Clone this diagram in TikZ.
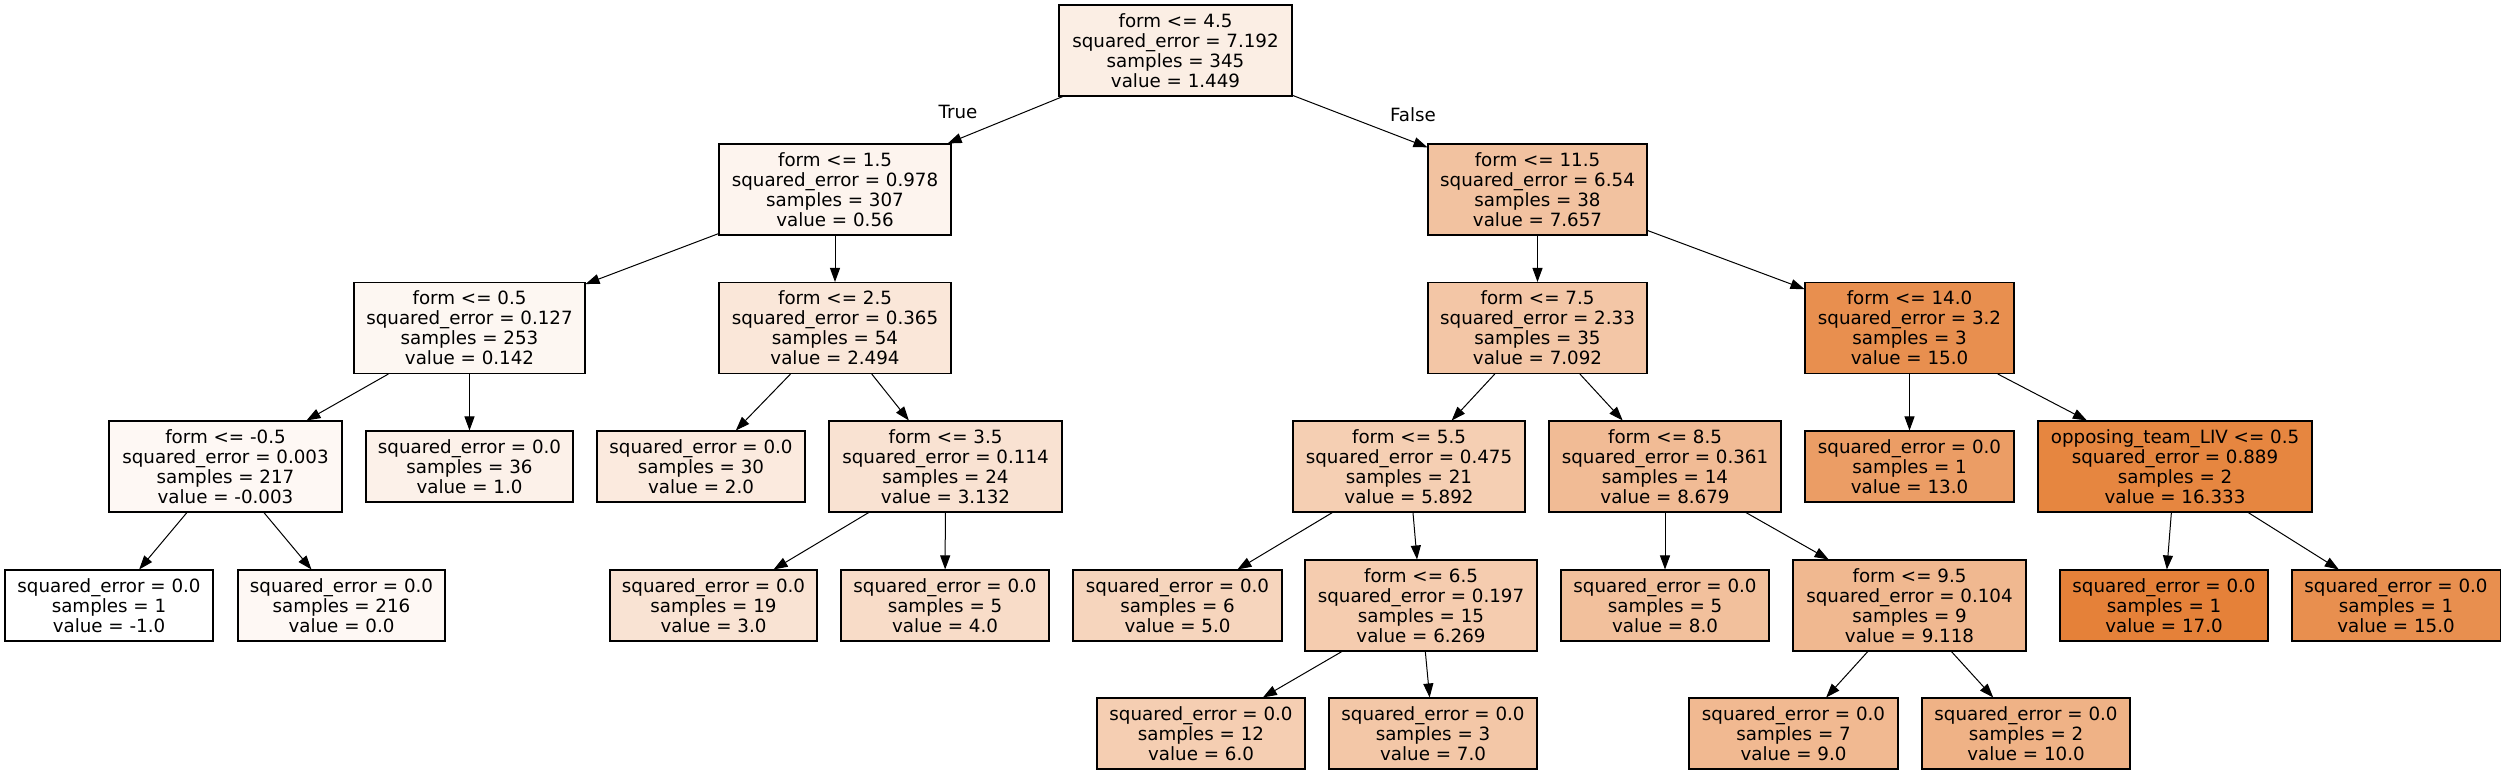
\documentclass[tikz,border=0pt]{standalone}
\usepackage{fontspec}
\setmainfont{DejaVu Sans}
\usetikzlibrary{arrows.meta}
\definecolor{c0}{RGB}{251,238,228}
\definecolor{c1}{RGB}{253,244,238}
\definecolor{c16}{RGB}{242,194,160}
\definecolor{c2}{RGB}{253,247,242}
\definecolor{c9}{RGB}{250,231,217}
\definecolor{c17}{RGB}{243,198,166}
\definecolor{c30}{RGB}{232,143,79}
\definecolor{c3}{RGB}{254,248,244}
\definecolor{c6}{RGB}{252,241,233}
\definecolor{c10}{RGB}{251,234,222}
\definecolor{c11}{RGB}{249,226,210}
\definecolor{c18}{RGB}{245,207,179}
\definecolor{c23}{RGB}{241,187,149}
\definecolor{c31}{RGB}{235,157,101}
\definecolor{c32}{RGB}{230,134,64}
\definecolor{c4}{RGB}{255,255,255}
\definecolor{c5}{RGB}{254,248,244}
\definecolor{c12}{RGB}{249,227,211}
\definecolor{c13}{RGB}{248,220,200}
\definecolor{c19}{RGB}{246,213,189}
\definecolor{c20}{RGB}{245,204,175}
\definecolor{c24}{RGB}{242,192,156}
\definecolor{c25}{RGB}{240,184,144}
\definecolor{c33}{RGB}{229,129,57}
\definecolor{c34}{RGB}{232,143,79}
\definecolor{c21}{RGB}{245,206,178}
\definecolor{c22}{RGB}{243,199,167}
\definecolor{c26}{RGB}{241,185,145}
\definecolor{c27}{RGB}{239,178,134}
\begin{document}
\begin{tikzpicture}[x=0.75pt,y=-0.75pt,
  tn/.style={draw=black, line width=0.8pt, rectangle, align=center, inner sep=0pt,
    font=\fontsize{13.7pt}{15pt}\selectfont},
  four/.style={tn, minimum height=68.25pt},
  three/.style={tn, minimum height=53.25pt},
  edge/.style={draw=black, line width=0.75pt, -{Triangle[length=10.5pt,width=7.5pt]}},
  lab/.style={font=\fontsize{13.7pt}{15pt}\selectfont, inner sep=0pt}]
\useasboundingbox (0,0) rectangle (2505,775);
% level 0
\node[four, fill=c0, minimum width=174.75pt] (n0) at (1175.5,50.5) {form <= 4.5\\squared\_error = 7.192\\samples = 345\\value = 1.449};
% level 1
\node[four, fill=c1, minimum width=174pt] (n1) at (835,189.5) {form <= 1.5\\squared\_error = 0.978\\samples = 307\\value = 0.56};
\node[four, fill=c16, minimum width=164.25pt] (n16) at (1537.5,189.5) {form <= 11.5\\squared\_error = 6.54\\samples = 38\\value = 7.657};
% level 2
\node[four, fill=c2, minimum width=173.25pt] (n2) at (469.5,328) {form <= 0.5\\squared\_error = 0.127\\samples = 253\\value = 0.142};
\node[four, fill=c9, minimum width=174pt] (n9) at (835,328) {form <= 2.5\\squared\_error = 0.365\\samples = 54\\value = 2.494};
\node[four, fill=c17, minimum width=164.25pt] (n17) at (1537.5,328) {form <= 7.5\\squared\_error = 2.33\\samples = 35\\value = 7.092};
\node[four, fill=c30, minimum width=156.75pt] (n30) at (1909.5,328) {form <= 14.0\\squared\_error = 3.2\\samples = 3\\value = 15.0};
% level 3
\node[four, fill=c3, minimum width=174.75pt] (n3) at (225.5,466.5) {form <= -0.5\\squared\_error = 0.003\\samples = 217\\value = -0.003};
\node[three, fill=c6, minimum width=155.25pt] (n6) at (469.5,466.5) {squared\_error = 0.0\\samples = 36\\value = 1.0};
\node[three, fill=c10, minimum width=156pt] (n10) at (701,466.5) {squared\_error = 0.0\\samples = 30\\value = 2.0};
\node[four, fill=c11, minimum width=174.75pt] (n11) at (945.5,466.5) {form <= 3.5\\squared\_error = 0.114\\samples = 24\\value = 3.132};
\node[four, fill=c18, minimum width=174pt] (n18) at (1409,466.5) {form <= 5.5\\squared\_error = 0.475\\samples = 21\\value = 5.892};
\node[four, fill=c23, minimum width=174pt] (n23) at (1665,466.5) {form <= 8.5\\squared\_error = 0.361\\samples = 14\\value = 8.679};
\node[three, fill=c31, minimum width=156.75pt] (n31) at (1909.5,466.5) {squared\_error = 0.0\\samples = 1\\value = 13.0};
\node[four, fill=c32, minimum width=205.5pt] (n32) at (2175,466.5) {opposing\_team\_LIV <= 0.5\\squared\_error = 0.889\\samples = 2\\value = 16.333};
% level 4
\node[three, fill=c4, minimum width=156pt] (n4) at (109,605.5) {squared\_error = 0.0\\samples = 1\\value = -1.0};
\node[three, fill=c5, minimum width=155.25pt] (n5) at (341.5,605.5) {squared\_error = 0.0\\samples = 216\\value = 0.0};
\node[three, fill=c12, minimum width=155.25pt] (n12) at (713.5,605.5) {squared\_error = 0.0\\samples = 19\\value = 3.0};
\node[three, fill=c13, minimum width=156pt] (n13) at (945,605.5) {squared\_error = 0.0\\samples = 5\\value = 4.0};
\node[three, fill=c19, minimum width=156.75pt] (n19) at (1177.5,605.5) {squared\_error = 0.0\\samples = 6\\value = 5.0};
\node[four, fill=c20, minimum width=174pt] (n20) at (1421,605.5) {form <= 6.5\\squared\_error = 0.197\\samples = 15\\value = 6.269};
\node[three, fill=c24, minimum width=156pt] (n24) at (1665,605.5) {squared\_error = 0.0\\samples = 5\\value = 8.0};
\node[four, fill=c25, minimum width=174.75pt] (n25) at (1909.5,605.5) {form <= 9.5\\squared\_error = 0.104\\samples = 9\\value = 9.118};
\node[three, fill=c33, minimum width=156pt] (n33) at (2164,605.5) {squared\_error = 0.0\\samples = 1\\value = 17.0};
\node[three, fill=c34, minimum width=156pt] (n34) at (2396,605.5) {squared\_error = 0.0\\samples = 1\\value = 15.0};
% level 5
\node[three, fill=c21, minimum width=156pt] (n21) at (1201,733.5) {squared\_error = 0.0\\samples = 12\\value = 6.0};
\node[three, fill=c22, minimum width=156pt] (n22) at (1433,733.5) {squared\_error = 0.0\\samples = 3\\value = 7.0};
\node[three, fill=c26, minimum width=156.75pt] (n26) at (1793.5,733.5) {squared\_error = 0.0\\samples = 7\\value = 9.0};
\node[three, fill=c27, minimum width=156pt] (n27) at (2026,733.5) {squared\_error = 0.0\\samples = 2\\value = 10.0};
% edge labels
\node[lab] (lt) at (958,112) {True};
\node[lab] (lf) at (1413,115) {False};
% edges
\draw[edge] (n0) -- (n1);
\draw[edge] (n0) -- (n16);
\draw[edge] (n1) -- (n2);
\draw[edge] (n1) -- (n9);
\draw[edge] (n2) -- (n3);
\draw[edge] (n2) -- (n6);
\draw[edge] (n3) -- (n4);
\draw[edge] (n3) -- (n5);
\draw[edge] (n9) -- (n10);
\draw[edge] (n9) -- (n11);
\draw[edge] (n11) -- (n12);
\draw[edge] (n11) -- (n13);
\draw[edge] (n16) -- (n17);
\draw[edge] (n16) -- (n30);
\draw[edge] (n17) -- (n18);
\draw[edge] (n17) -- (n23);
\draw[edge] (n18) -- (n19);
\draw[edge] (n18) -- (n20);
\draw[edge] (n20) -- (n21);
\draw[edge] (n20) -- (n22);
\draw[edge] (n23) -- (n24);
\draw[edge] (n23) -- (n25);
\draw[edge] (n25) -- (n26);
\draw[edge] (n25) -- (n27);
\draw[edge] (n30) -- (n31);
\draw[edge] (n30) -- (n32);
\draw[edge] (n32) -- (n33);
\draw[edge] (n32) -- (n34);
\end{tikzpicture}
\end{document}
